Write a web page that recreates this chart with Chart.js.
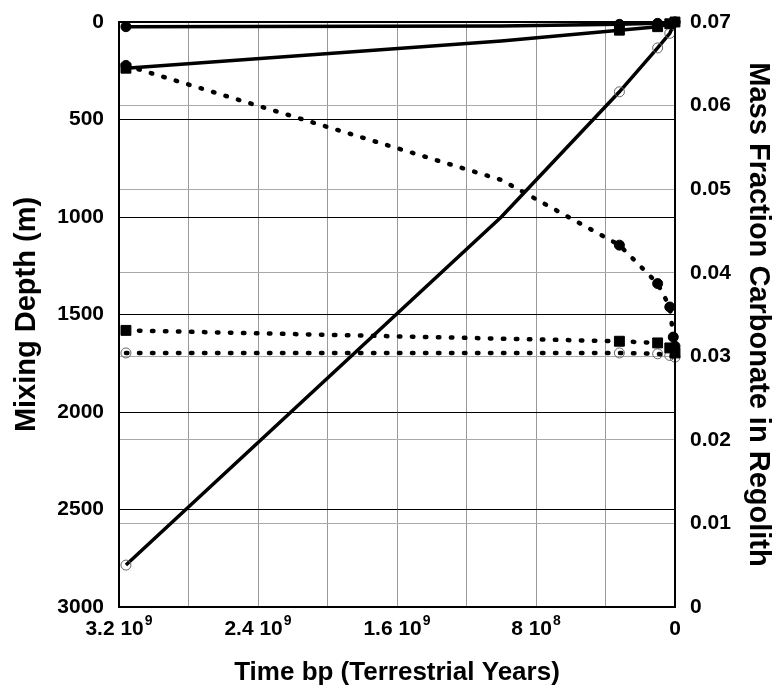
<!DOCTYPE html>
<html>
<head>
<meta charset="utf-8">
<script src="https://cdn.jsdelivr.net/npm/chart.js@4.4.0/dist/chart.umd.min.js"></script>
<style>
  html, body { margin: 0; padding: 0; background: #fff; }
  canvas { display: block; }
</style>
</head>
<body>
<canvas id="myChart" width="776" height="688"></canvas>
<script>
// time before present (years) and values
// solid lines -> mixing depth (m), left axis
const tDepthSmall = [3.16e9, 1e9, 3.2e8, 1e8, 0]
const depthSmall  = [24, 21, 12, 7, 0]
const tDepthMid   = [3.16e9, 1e9, 3.2e8, 1e8, 3e7, 0]
const depthMid    = [237, 98, 42, 24, 9, 0]
const tDepthLarge = [3.16e9, 1e9, 3.2e8, 1e8, 3e7, 0]
const depthLarge  = [2785, 1000, 358, 133, 58, 0]

// dotted lines -> mass fraction carbonate, right axis
const tFracHigh = [3.16e9, 1e9, 3.2e8, 1e8, 3e7, 1e7, 0]
const fracHigh  = [0.0648, 0.0511, 0.0433, 0.0387, 0.0359, 0.0323, 0.0312]
const tFracMid  = [3.16e9, 3.2e8, 1e8, 3e7, 0]
const fracMid   = [0.0331, 0.0318, 0.0316, 0.0310, 0.0304]
const tFracLow  = [3.16e9, 3.2e8, 1e8, 3e7, 0]
const fracLow   = [0.0304, 0.0304, 0.0303, 0.0301, 0.0299]

// tick labels (x labels are "mantissa 10^exp")
const xTickValues = [0, 8e8, 1.6e9, 2.4e9, 3.2e9]
const xTickBase = ['0', '8 10', '1.6 10', '2.4 10', '3.2 10']
const xTickExp  = ['', '8', '9', '9', '9']
const depthTicks = ['0', '500', '1000', '1500', '2000', '2500', '3000']
const fracTicks = ['0', '0.01', '0.02', '0.03', '0.04', '0.05', '0.06', '0.07']

const noMarkerAt = 1e9   // bend point without a symbol
const fontFamily = '"Liberation Sans", Arial, Helvetica, sans-serif'

function pts(xs, ys) {
  return xs.map((x, i) => ({x: x, y: ys[i]}))
}

Chart.defaults.font.family = fontFamily
Chart.defaults.font.weight = 'bold'
Chart.defaults.color = '#000'

const solid = {borderColor: '#000', borderWidth: 3.5, fill: false, tension: 0, clip: false, yAxisID: 'y'}
const dotted = {borderColor: '#000', borderWidth: 4.5, borderDash: [1.5, 11.5], borderCapStyle: 'round',
  fill: false, tension: 0, clip: false, yAxisID: 'y1'}

function radius(r) {
  return ctx => (ctx.raw && ctx.raw.x === noMarkerAt) ? 0 : r
}

const filledCircle = {pointStyle: 'circle', pointRadius: radius(5), pointBackgroundColor: '#000', pointBorderColor: '#000', pointBorderWidth: 1}
const filledSquare = {pointStyle: 'rect', pointRadius: radius(7), pointBackgroundColor: '#000', pointBorderColor: '#000', pointBorderWidth: 1}
const openCircle = {pointStyle: 'circle', pointRadius: radius(5), pointBackgroundColor: 'rgba(0,0,0,0)', pointBorderColor: '#666', pointBorderWidth: 1}

const data = {
  datasets: [
    Object.assign({label: 'depth small', data: pts(tDepthSmall, depthSmall)}, solid, filledCircle),
    Object.assign({label: 'depth mid', data: pts(tDepthMid, depthMid)}, solid, filledSquare),
    Object.assign({label: 'depth large', data: pts(tDepthLarge, depthLarge)}, solid, openCircle),
    Object.assign({label: 'fraction high', data: pts(tFracHigh, fracHigh)}, dotted, filledCircle),
    Object.assign({label: 'fraction mid', data: pts(tFracMid, fracMid)}, dotted, filledSquare),
    Object.assign({label: 'fraction low', data: pts(tFracLow, fracLow)}, dotted, openCircle)
  ]
}

// black frame round the plot + x labels with superscript exponent
const frame = {
  id: 'frame',
  afterDatasetsDraw(chart) {
    const a = chart.chartArea
    const c = chart.ctx
    c.save()
    c.strokeStyle = '#000'
    c.lineWidth = 2
    c.strokeRect(a.left, a.top, a.right - a.left, a.bottom - a.top)
    c.restore()
  },
  afterDraw(chart) {
    const c = chart.ctx
    const sx = chart.scales.x
    const base = 'bold 21px ' + fontFamily
    const sup = 'bold 14px ' + fontFamily
    const y = sx.top + 28
    c.save()
    c.fillStyle = '#000'
    c.textBaseline = 'alphabetic'
    c.textAlign = 'left'
    xTickValues.forEach((v, i) => {
      c.font = base
      const w1 = c.measureText(xTickBase[i]).width
      c.font = sup
      const w2 = xTickExp[i] ? c.measureText(xTickExp[i]).width + 1 : 0
      const x0 = sx.getPixelForValue(v) - (w1 + w2) / 2
      c.font = base
      c.fillText(xTickBase[i], x0, y)
      if (xTickExp[i]) {
        c.font = sup
        c.fillText(xTickExp[i], x0 + w1 + 1, y - 10)
      }
    })
    c.restore()
  }
}

const tickFont = {size: 21, weight: 'bold'}

// fixed axis sizes, no extra room for overflowing end labels
function fixVertical(w) {
  return s => { s.width = w; s.paddingTop = 0; s.paddingBottom = 0 }
}

const config = {
  type: 'line',
  data: data,
  plugins: [frame],
  options: {
    responsive: false,
    animation: false,
    devicePixelRatio: 1,
    layout: {padding: {top: 22, right: 0, bottom: 0, left: 0}},
    plugins: {legend: {display: false}, tooltip: {enabled: false}},
    scales: {
      x: {
        type: 'linear',
        reverse: true,
        min: 0,
        max: 3.2e9,
        afterFit: s => { s.height = 81; s.paddingLeft = 0; s.paddingRight = 0 },
        grid: {color: '#999', lineWidth: 1, drawTicks: false},
        border: {color: '#000', width: 2},
        ticks: {stepSize: 4e8, padding: 6, maxRotation: 0, autoSkip: false, font: tickFont, callback: () => ''},
        title: {display: true, text: 'Time bp (Terrestrial Years)', font: {size: 26, weight: 'bold'}, padding: {top: 0, bottom: 0}}
      },
      y: {
        position: 'left',
        reverse: true,
        min: 0,
        max: 3000,
        afterFit: fixVertical(119),
        grid: {color: '#000', lineWidth: 1, drawTicks: false},
        border: {color: '#000', width: 2},
        ticks: {stepSize: 500, padding: 15, font: tickFont, callback: v => depthTicks[Math.round(v / 500)]},
        title: {display: true, text: 'Mixing Depth (m)', font: {size: 29, weight: 'bold'}, padding: {top: 10, bottom: 0}}
      },
      y1: {
        position: 'right',
        min: 0,
        max: 0.07,
        afterFit: fixVertical(101),
        grid: {color: '#aaa', lineWidth: 1, drawTicks: false},
        border: {color: '#000', width: 2},
        ticks: {stepSize: 0.01, padding: 15, font: tickFont, callback: v => fracTicks[Math.round(v / 0.01)]},
        title: {display: true, text: 'Mass Fraction Carbonate in Regolith', font: {size: 29, weight: 'bold'}, padding: {top: 1, bottom: 0}}
      }
    }
  }
}

const myChart = new Chart(document.getElementById('myChart'), config)
</script>
</body>
</html>
